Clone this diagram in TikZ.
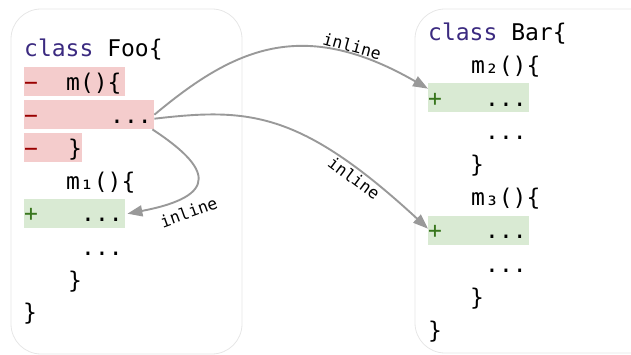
\documentclass[tikz,border=0pt]{standalone}
\usepackage{fontspec}
\usepackage{xcolor}
\usepackage{tikz}
\usetikzlibrary{arrows.meta, positioning}
\newfontfamily\codefont{DejaVu Sans Mono}

\definecolor{kwpurple}{HTML}{3B2A80}
\definecolor{delfill}{HTML}{F4CCCC}
\definecolor{delmark}{HTML}{990000}
\definecolor{addfill}{HTML}{D9EAD3}
\definecolor{addmark}{HTML}{38761D}
\definecolor{arrowgray}{HTML}{999999}
\definecolor{framegray}{HTML}{E6E6E6}

\tikzset{
    code/.style={anchor=base west, inner sep=0pt, font=\codefont\fontsize{23}{27}\selectfont},
    delbox/.style={fill=delfill, inner sep=0pt, anchor=north west, minimum height=29pt},
    addbox/.style={fill=addfill, inner sep=0pt, anchor=north west, minimum height=29pt},
    inlinearrow/.style={draw=arrowgray, line width=1.9pt, -{Triangle[length=15pt, width=11pt]}},
    inlinelabel/.style={font=\codefont\fontsize{16.5}{18}\selectfont, inner sep=1.5pt}
}

\begin{document}
\begin{tikzpicture}[x=1pt, y=1pt]
\useasboundingbox (0,0) rectangle (631,-355);
\clip (0,0) rectangle (631,-355);

% Frames
\draw[framegray, line width=0.8pt, rounded corners=30pt] (11,-9) rectangle (242,-354);
\draw[framegray, line width=0.8pt, rounded corners=30pt] (415,-9) rectangle (660,-353);

% Highlights
\node[delbox, minimum width=101pt] (delHead) at (24,-67) {};
\node[delbox, minimum width=130pt] (delBody) at (24,-100) {};
\node[delbox, minimum width=58pt] (delEnd) at (24,-133) {};
\node[addbox, minimum width=101pt] (addFoo) at (24,-199) {};
\node[addbox, minimum width=101pt] (addBarTwo) at (428,-83) {};
\node[addbox, minimum width=101pt] (addBarThree) at (428,-216) {};

% class Foo
\node[code] (fooHead) at (24,-57) {\textcolor{kwpurple}{class} Foo\{};
\node[code, delmark] (delMarkA) at (24,-91) {−};
\node[code] (fooM) at (66,-91) {m()\{};
\node[code, delmark] (delMarkB) at (24,-124) {−};
\node[code] (fooMBody) at (110,-124) {...};
\node[code, delmark] (delMarkC) at (24,-157) {−};
\node[code] (fooMEnd) at (68,-157) {\}};
\node[code] (fooMOne) at (66,-190) {m₁()\{};
\node[code, addmark] (addMarkFoo) at (24,-222) {+};
\node[code] (fooMOneNew) at (81,-222) {...};
\node[code] (fooMOneBody) at (81,-255) {...};
\node[code] (fooMOneEnd) at (68,-288) {\}};
\node[code] (fooEnd) at (23,-320) {\}};

% class Bar
\node[code] (barHead) at (428,-41) {\textcolor{kwpurple}{class} Bar\{};
\node[code] (barMTwo) at (471,-74) {m₂()\{};
\node[code, addmark] (addMarkTwo) at (428,-107) {+};
\node[code] (barMTwoNew) at (485,-107) {...};
\node[code] (barMTwoBody) at (485,-140) {...};
\node[code] (barMTwoEnd) at (470,-173) {\}};
\node[code] (barMThree) at (471,-206) {m₃()\{};
\node[code, addmark] (addMarkThree) at (428,-239) {+};
\node[code] (barMThreeNew) at (485,-239) {...};
\node[code] (barMThreeBody) at (485,-272) {...};
\node[code] (barMThreeEnd) at (470,-305) {\}};
\node[code] (barEnd) at (428,-338) {\}};

% Inlining arrows
\draw[inlinearrow] (delBody.east) .. controls +(80,67) and +(-125,72) .. ([yshift=9pt]addBarTwo.west)
    node[inlinelabel, sloped, pos=0.77, above] {inline};
\draw[inlinearrow] ([yshift=-4pt]delBody.east) .. controls +(94,11) and +(-128,118) .. ([yshift=2pt]addBarThree.west)
    node[inlinelabel, sloped, pos=0.8, below] {inline};
\draw[inlinearrow] ([xshift=-2pt]delBody.south east) .. controls +(58,-38) and +(94,18) .. ([xshift=2pt]addFoo.east)
    node[inlinelabel, pos=0.72, rotate=20, anchor=north, yshift=-8pt] {inline};
\end{tikzpicture}
\end{document}
